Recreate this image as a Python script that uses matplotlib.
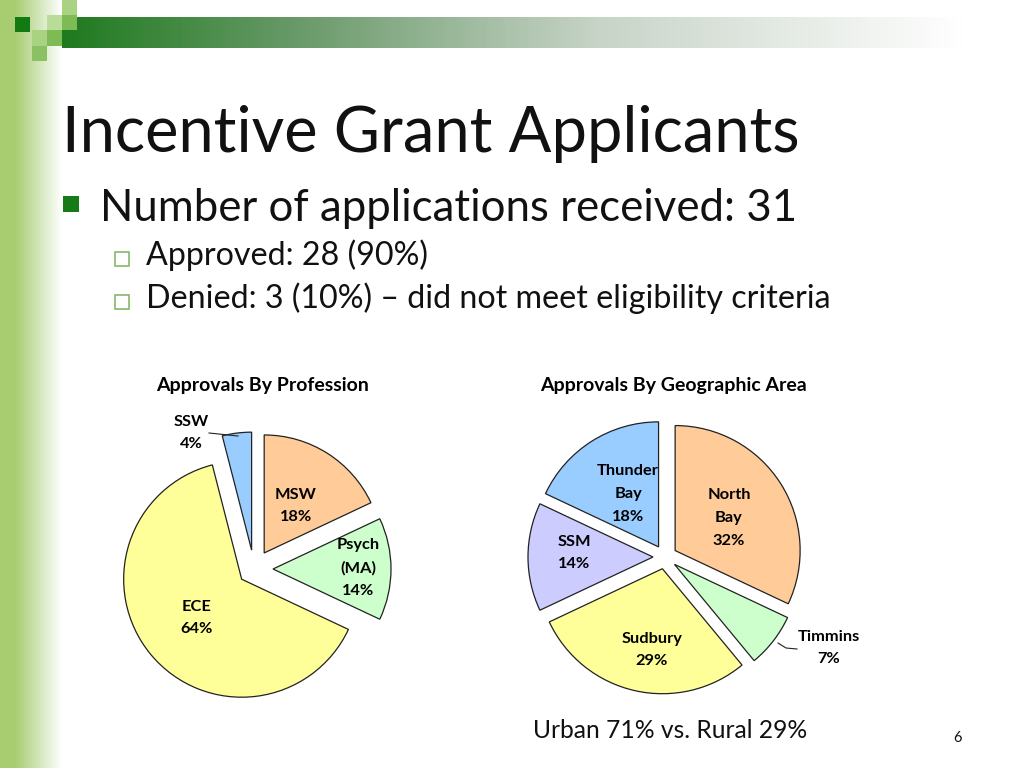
import numpy as np
import matplotlib
matplotlib.use("Agg")
import matplotlib.pyplot as plt
from matplotlib.colors import LinearSegmentedColormap
from matplotlib.patches import Rectangle

# ---------------- data ----------------
title = "Incentive Grant Applicants"
bullet_main = "Number of applications received: 31"
sub_bullets = ["Approved: 28 (90%)", "Denied: 3 (10%) \u2013 did not meet eligibility criteria"]

prof_title = "Approvals By Profession"
prof_labels = ["MSW", "Psych\n(MA)", "ECE", "SSW"]
prof_values = [18, 14, 64, 4]
prof_colors = ["#FFCC99", "#CCFFCC", "#FFFF99", "#99CCFF"]

geo_title = "Approvals By Geographic Area"
geo_labels = ["North\nBay", "Timmins", "Sudbury", "SSM", "Thunder\nBay"]
geo_values = [32, 7, 29, 14, 18]
geo_colors = ["#FFCC99", "#CCFFCC", "#FFFF99", "#CCCCFF", "#99CCFF"]

footer = "Urban 71% vs. Rural 29%"
page_no = "6"

# ---------------- figure ----------------
W, H = 1024, 768
fig = plt.figure(figsize=(10.24, 7.68), dpi=100)
ax = fig.add_axes([0, 0, 1, 1])
ax.set_xlim(0, W)
ax.set_ylim(0, H)
ax.axis("off")

def Y(y):
    return H - y

FONT = "Lato"

# left vertical gradient
lg = LinearSegmentedColormap.from_list("lg", [(0, "#a8cc70"), (0.25, "#a9cd72"), (0.6, "#cfe4b4"), (1.0, "#ffffff")])
ax.imshow(np.linspace(0, 1, 256)[None, :], cmap=lg, extent=(0, 62, 0, H), aspect="auto", zorder=0)

# top bar gradient
tg = LinearSegmentedColormap.from_list("tg", [(0, "#1f7a1f"), (0.247, "#6a9a6a"), (0.559, "#c8d4c8"), (0.94, "#ffffff"), (1.0, "#ffffff")])
ax.imshow(np.linspace(0, 1, 256)[None, :], cmap=tg, extent=(62, W, Y(48), Y(17)), aspect="auto", zorder=1)

# decorative squares (x0, y0, x1, y1, color)
squares = [
    (15, 17, 30, 32, "#127a12"),
    (62, 0, 77, 15, "#a9d283"),
    (47, 15, 62, 30, "#b9dc98"),
    (62, 15, 77, 30, "#7fbb55"),
    (32, 30, 47, 46, "#a9d283"),
    (47, 30, 62, 46, "#7fbb55"),
    (32, 46, 47, 61, "#8cc163"),
]
for x0, y0, x1, y1, c in squares:
    ax.add_patch(Rectangle((x0, Y(y1)), x1 - x0, y1 - y0, facecolor=c, edgecolor="none", zorder=2))

# title and bullets
ax.text(62, Y(152), title, fontsize=45.5, family=FONT, color="#111111", ha="left", va="baseline", zorder=3)
ax.add_patch(Rectangle((63, Y(212)), 16, 16, facecolor="#167a16", edgecolor="none", zorder=3))
ax.text(100, Y(221), bullet_main, fontsize=31.5, family=FONT, color="#111111", ha="left", va="baseline", zorder=3)
for i, s in enumerate(sub_bullets):
    yb = 265 + i * 43
    ax.add_patch(Rectangle((115, Y(yb + 1)), 14, 14, facecolor="white", edgecolor="#88b868", linewidth=1.2, zorder=3))
    ax.text(146, Y(yb), s, fontsize=23.2, family=FONT, color="#111111", ha="left", va="baseline", zorder=3)

wp = dict(edgecolor="#222222", linewidth=0.9)
LS = 1.8

# pie 1: by profession
c1 = (254, Y(569))
ax.pie(prof_values, colors=prof_colors, startangle=90, counterclock=False,
       center=c1, radius=118, explode=[19, 19, 16, 19], wedgeprops=wp, frame=True)
ax.text(263, Y(385), prof_title, fontsize=14, family=FONT, weight="bold", ha="center", va="center", zorder=5)
lab1 = {"MSW": (296, 506), "Psych\n(MA)": (358, 568), "ECE": (197, 618), "SSW": (191, 433)}
for lbl, v in zip(prof_labels, prof_values):
    x, y = lab1[lbl]
    ax.text(x, Y(y), f"{lbl}\n{v}%", fontsize=11.8, family=FONT, weight="bold", ha="center", va="center",
            linespacing=LS, zorder=5)
ax.plot([209, 238], [Y(433), Y(436)], color="#222222", lw=0.8, zorder=5)

# pie 2: by geographic area
c2 = (665, Y(557))
ax.pie(geo_values, colors=geo_colors, startangle=90, counterclock=False,
       center=c2, radius=125, explode=[12, 12, 12, 12, 12], wedgeprops=wp, frame=True)
ax.text(673, Y(386), geo_title, fontsize=14, family=FONT, weight="bold", ha="center", va="center", zorder=5)
lab2 = {"North\nBay": (729, 518), "Timmins": (829, 648), "Sudbury": (652, 650),
        "SSM": (574, 553), "Thunder\nBay": (628, 494)}
for lbl, v in zip(geo_labels, geo_values):
    x, y = lab2[lbl]
    ax.text(x, Y(y), f"{lbl}\n{v}%", fontsize=11.8, family=FONT, weight="bold", ha="center", va="center",
            linespacing=LS, zorder=5)
ax.plot([778, 786, 797], [Y(643), Y(648), Y(649)], color="#222222", lw=0.8, zorder=5)

# footer
ax.text(533, Y(738), footer, fontsize=17.7, family=FONT, color="#111111", ha="left", va="baseline", zorder=5)
ax.text(958, Y(742), page_no, fontsize=10.5, family=FONT, color="#111111", ha="center", va="baseline", zorder=5)

ax.set_xlim(0, W)
ax.set_ylim(0, H)
ax.axis("off")
fig.savefig("out.png", dpi=100)
